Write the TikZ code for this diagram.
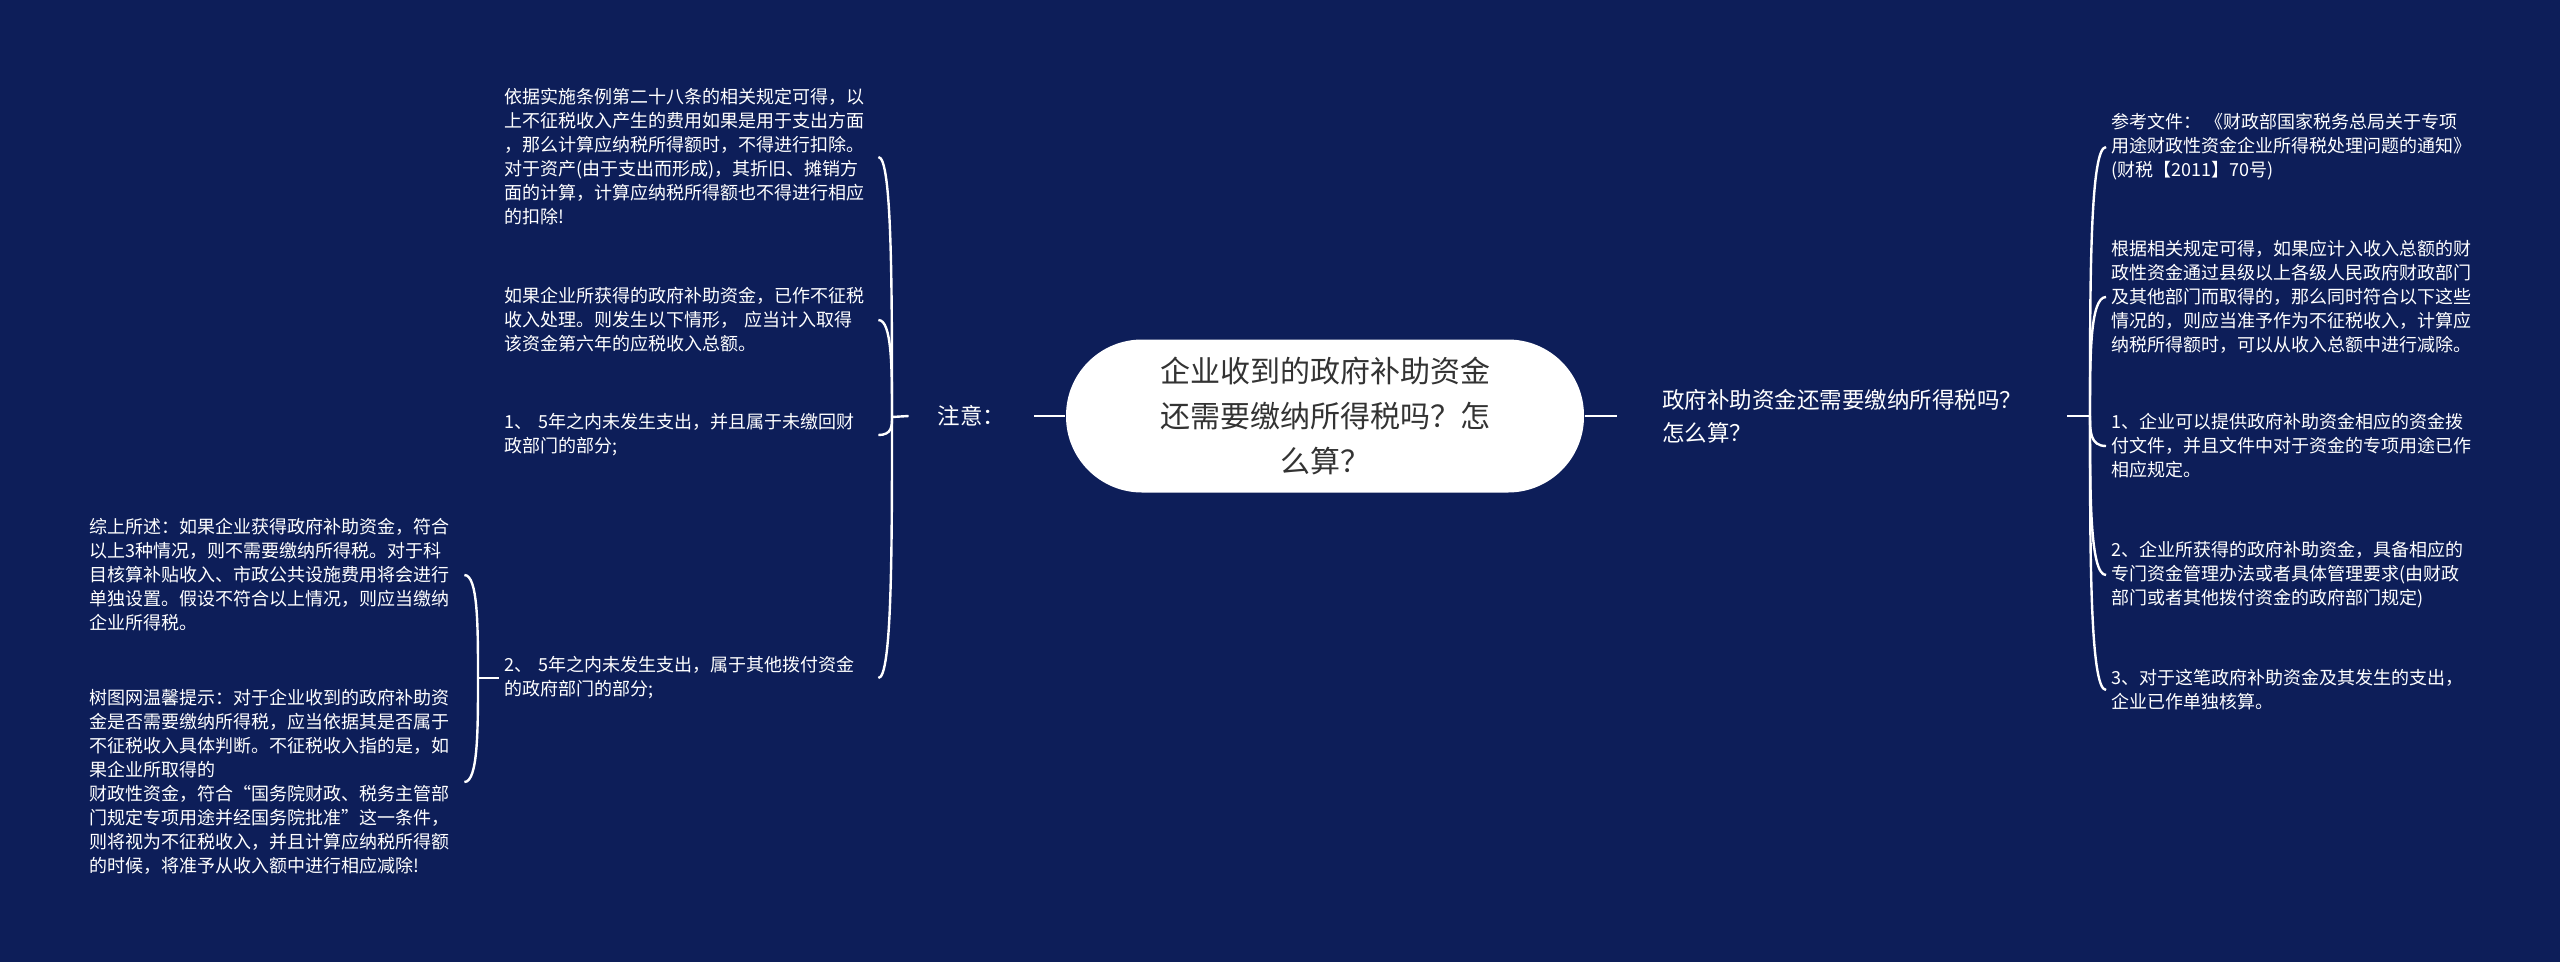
\documentclass[tikz,border=0pt]{standalone}
\usepackage{fontspec}
\newfontfamily\cjk{Noto Sans CJK SC}
\usepackage{xcolor}
\usetikzlibrary{calc}
\definecolor{navy}{RGB}{13,30,89}
\definecolor{rootgray}{RGB}{51,51,51}

\begin{document}
\begin{tikzpicture}[x=1pt, y=-1pt, line width=2.4pt,
    link/.style={draw=white, line width=2.4pt},
    leaf/.style={text=white, font=\cjk\fontsize{18}{24}\selectfont, align=left, inner sep=4pt, anchor=west},
    topic/.style={text=white, font=\cjk\fontsize{22.5}{33}\selectfont, align=left, inner ysep=4pt},
    rootnode/.style={fill=white, text=rootgray, rounded corners=76pt, minimum width=518pt, minimum height=153pt, align=center, font=\cjk\fontsize{30}{45}\selectfont}]
    \fill[navy] (0,0) rectangle (2560,962);
    % centre and first level
    \node[rootnode] (root) at (1325,416) {企业收到的政府补助资金\\还需要缴纳所得税吗？怎\\么算？};
    \node[topic, inner xsep=28pt] (note) at (971.5,416) {注意：};
    \node[topic, inner xsep=44pt, anchor=west] (ask) at (1617,416) {政府补助资金还需要缴纳所得税吗？\\怎么算？};
    \coordinate (lj) at (892,417);
    \coordinate (rj) at (2090,416);
    \coordinate (sj) at (478,678);
    % left branch
    \node[leaf, text width=369pt] (l1) at (499,157) {依据实施条例第二十八条的相关规定可得，以\\上不征税收入产生的费用如果是用于支出方面\\，那么计算应纳税所得额时，不得进行扣除。\\对于资产(由于支出而形成)，其折旧、摊销方\\面的计算，计算应纳税所得额也不得进行相应\\的扣除!};
    \node[leaf, text width=369pt] (l2) at (499,320) {如果企业所获得的政府补助资金，已作不征税\\收入处理。则发生以下情形， 应当计入取得\\该资金第六年的应税收入总额。};
    \node[leaf, text width=369pt] (l3) at (499,435) {1、 5年之内未发生支出，并且属于未缴回财\\政部门的部分;};
    \node[leaf, text width=369pt] (l4) at (499,678) {2、 5年之内未发生支出，属于其他拨付资金\\的政府部门的部分;};
    \node[leaf, text width=370pt] (s1) at (84,575) {综上所述：如果企业获得政府补助资金，符合\\以上3种情况，则不需要缴纳所得税。对于科\\目核算补贴收入、市政公共设施费用将会进行\\单独设置。假设不符合以上情况，则应当缴纳\\企业所得税。};
    \node[leaf, text width=370pt] (s2) at (84,782) {树图网温馨提示：对于企业收到的政府补助资\\金是否需要缴纳所得税，应当依据其是否属于\\不征税收入具体判断。不征税收入指的是，如\\果企业所取得的\\财政性资金，符合“国务院财政、税务主管部\\门规定专项用途并经国务院批准”这一条件，\\则将视为不征税收入，并且计算应纳税所得额\\的时候，将准予从收入额中进行相应减除!};
    % right branch
    \node[leaf] (r1) at (2106,147) {参考文件： 《财政部国家税务总局关于专项\\用途财政性资金企业所得税处理问题的通知》\\(财税【2011】70号)};
    \node[leaf] (r2) at (2106,297) {根据相关规定可得，如果应计入收入总额的财\\政性资金通过县级以上各级人民政府财政部门\\及其他部门而取得的，那么同时符合以下这些\\情况的，则应当准予作为不征税收入，计算应\\纳税所得额时，可以从收入总额中进行减除。};
    \node[leaf] (r3) at (2106,446) {1、企业可以提供政府补助资金相应的资金拨\\付文件，并且文件中对于资金的专项用途已作\\相应规定。};
    \node[leaf] (r4) at (2106,575) {2、企业所获得的政府补助资金，具备相应的\\专门资金管理办法或者具体管理要求(由财政\\部门或者其他拨付资金的政府部门规定)};
    \node[leaf] (r5) at (2106,690) {3、对于这笔政府补助资金及其发生的支出，\\企业已作单独核算。};
    % connectors
    \draw[link] (note.east) -- (root.west);
    \draw[link] (root.east) -- (ask.west);
    \draw[link] (lj) -- (note.west);
    \draw[link] (ask.east) -- (rj);
    \draw[link] (sj) -- (l4.west);
    \foreach \n in {l1,l2,l3,l4}
        \draw[link] (lj) .. controls ($(lj)!0.5!(lj |- \n.east)$) and (lj |- \n.east) .. (\n.east);
    \foreach \n in {s1,s2}
        \draw[link] (sj) .. controls ($(sj)!0.5!(sj |- \n.east)$) and (sj |- \n.east) .. (\n.east);
    \foreach \i in {1,...,5}
        \draw[link] (rj) .. controls ($(rj)!0.5!(rj |- r\i.west)$) and (rj |- r\i.west) .. (r\i.west);
\end{tikzpicture}
\end{document}
